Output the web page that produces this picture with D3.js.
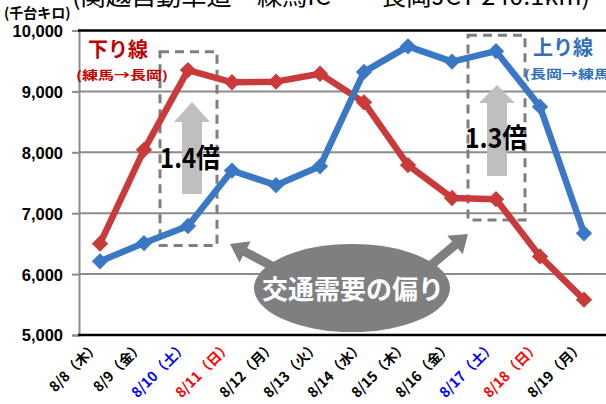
<!DOCTYPE html>
<html>
<head>
<meta charset="utf-8">
<script src="https://cdn.jsdelivr.net/npm/d3@7"></script>
<style>
  body { margin: 0; background: #fff; }
  svg { display: block; }
  text { font-family: "Liberation Sans", "Noto Sans CJK JP", sans-serif; }
  .jp { font-family: "Noto Sans CJK JP", sans-serif; }
</style>
</head>
<body>
<div id="chart"></div>
<script>
// dates on the x axis and their colour class (weekday / sat / sun)
var dates = ["8/8（木）", "8/9（金）", "8/10（土）", "8/11（日）", "8/12（月）", "8/13（火）",
  "8/14（水）", "8/15（木）", "8/16（金）", "8/17（土）", "8/18（日）", "8/19（月）"];
var dayType = ["w", "w", "sat", "sun", "w", "w", "w", "w", "w", "sat", "sun", "w"];
// 下り線 (練馬→長岡), 千台キロ
var down = [6500, 8040, 9350, 9150, 9160, 9290, 8820, 7790, 7250, 7230, 6290, 5580];
// 上り線 (長岡→練馬)
var up = [6210, 6510, 6790, 7700, 7460, 7770, 9320, 9740, 9490, 9660, 8750, 6670];
var yTicks = [5000, 6000, 7000, 8000, 9000, 10000];

var width = 606, height = 404;
var plotLeft = 78, plotRight = 606, plotTop = 30.5, plotBottom = 335;

var svg = d3.select("#chart").append("svg")
  .attr("width", width)
  .attr("height", height);

var defs = svg.append("defs");
var blur = defs.append("filter").attr("id", "soft")
  .attr("x", "-10%").attr("y", "-10%").attr("width", "120%").attr("height", "120%");
blur.append("feGaussianBlur").attr("stdDeviation", 0.6);

var x = d3.scalePoint().domain(dates).range([plotLeft, plotRight]).padding(0.5);
var y = d3.scaleLinear().domain([5000, 10000]).range([plotBottom, plotTop]);

// gridlines
svg.append("g").selectAll("line")
  .data(yTicks.filter(function(d) { return d > 5000 && d < 10000; }))
  .enter().append("line")
  .attr("x1", plotLeft + 1).attr("x2", plotRight)
  .attr("y1", function(d) { return y(d); })
  .attr("y2", function(d) { return y(d); })
  .attr("stroke", "#8c8c8c").attr("stroke-width", 2);

// left axis
var yAxis = svg.append("g")
  .attr("transform", "translate(" + (plotLeft + 1) + ",0)")
  .call(d3.axisLeft(y).tickValues(yTicks).tickSize(7).tickFormat(d3.format(",")));
yAxis.select(".domain").attr("stroke", "#8c8c8c").attr("stroke-width", 2);
yAxis.selectAll(".tick line").attr("stroke", "#8c8c8c").attr("stroke-width", 2);
yAxis.selectAll(".tick text")
  .attr("x", -16)
  .attr("dy", "0.36em")
  .style("font-size", "16.5px")
  .style("font-weight", "bold")
  .style("fill", "#000");

// top and bottom borders
svg.append("line").attr("x1", plotLeft).attr("x2", plotRight)
  .attr("y1", y(10000)).attr("y2", y(10000))
  .attr("stroke", "#000").attr("stroke-width", 2.5);
svg.append("line").attr("x1", plotLeft).attr("x2", plotRight)
  .attr("y1", y(5000)).attr("y2", y(5000))
  .attr("stroke", "#000").attr("stroke-width", 2.5);

// x labels
var dayColor = { w: "#000", sat: "#0000ff", sun: "#ff0000" };
svg.append("g").selectAll("text")
  .data(dates)
  .enter().append("text")
  .attr("class", "jp")
  .attr("transform", function(d) {
    return "translate(" + (x(d) - 3) + "," + (plotBottom + 9) + ") rotate(-45)";
  })
  .attr("text-anchor", "end")
  .attr("dy", "0.35em")
  .style("font-size", "14px")
  .style("font-weight", "bold")
  .style("fill", function(d, i) { return dayColor[dayType[i]]; })
  .text(function(d) { return d; });

// axis unit and title (title is cut by the top edge)
svg.append("text").attr("class", "jp")
  .attr("x", 4).attr("y", 18)
  .style("font-size", "14px").style("font-weight", "bold")
  .text("(千台キロ)");
svg.append("text").attr("class", "jp")
  .attr("x", 72).attr("y", 5)
  .attr("textLength", 518).attr("lengthAdjust", "spacingAndGlyphs")
  .style("font-size", "24px")
  .text("(関越自動車道　練馬IC　・長岡JCT 240.1km)");

// dashed boxes
function box(i, v0, v1) {
  var cx = x(dates[i]);
  svg.append("rect")
    .attr("x", cx - 28).attr("width", 57)
    .attr("y", y(v1)).attr("height", y(v0) - y(v1))
    .attr("fill", "none")
    .attr("stroke", "#7f7f7f").attr("stroke-width", 3)
    .attr("stroke-dasharray", "9,6");
}
box(2, 6470, 9650);
box(9, 6890, 9920);

function arrowPts(x1, y1, x2, y2, sw, hl, hw) {
  var dx = x2 - x1, dy = y2 - y1, L = Math.hypot(dx, dy);
  var ux = dx / L, uy = dy / L, px = -uy, py = ux;
  var bx = x2 - ux * hl, by = y2 - uy * hl;
  return [
    [x1 + px * sw / 2, y1 + py * sw / 2],
    [bx + px * sw / 2, by + py * sw / 2],
    [bx + px * hw / 2, by + py * hw / 2],
    [x2, y2],
    [bx - px * hw / 2, by - py * hw / 2],
    [bx - px * sw / 2, by - py * sw / 2],
    [x1 - px * sw / 2, y1 - py * sw / 2]
  ];
}
function arrow(pts, fill) {
  svg.append("polygon")
    .attr("points", pts.map(function(p) { return p.join(","); }).join(" "))
    .attr("fill", fill);
}

// grey up arrows inside boxes
arrow(arrowPts(x(dates[2]) + 4, 194, x(dates[2]) + 4, 102, 20, 20, 36), "#bfbfbf");
arrow(arrowPts(x(dates[9]) + 1, 176, x(dates[9]) + 1, 85, 20, 18, 36), "#bfbfbf");

// series
var line = d3.line()
  .x(function(d, i) { return x(dates[i]); })
  .y(function(d) { return y(d); });

function series(data, color) {
  var g = svg.append("g").attr("filter", "url(#soft)");
  g.append("path")
    .datum(data)
    .attr("d", line)
    .attr("fill", "none")
    .attr("stroke", color)
    .attr("stroke-width", 6.5)
    .attr("stroke-linejoin", "round");
  g.selectAll("path.pt")
    .data(data)
    .enter().append("path")
    .attr("class", "pt")
    .attr("d", d3.symbol().type(d3.symbolDiamond2).size(170))
    .attr("transform", function(d, i) {
      return "translate(" + x(dates[i]) + "," + y(d) + ")";
    })
    .attr("fill", color);
}
series(down, "#c93a3b");
series(up, "#3a78c4");

// ratio labels
svg.append("text").attr("class", "jp")
  .attr("x", 190).attr("y", 168).attr("text-anchor", "middle")
  .attr("textLength", 60).attr("lengthAdjust", "spacingAndGlyphs")
  .style("font-size", "27px").style("font-weight", "bold")
  .text("1.4倍");
svg.append("text").attr("class", "jp")
  .attr("x", 496).attr("y", 148).attr("text-anchor", "middle")
  .attr("textLength", 62).attr("lengthAdjust", "spacingAndGlyphs")
  .style("font-size", "27px").style("font-weight", "bold")
  .text("1.3倍");

// series labels
svg.append("text").attr("class", "jp")
  .attr("x", 88).attr("y", 57)
  .style("font-size", "20px").style("font-weight", "bold").style("fill", "#c00000")
  .text("下り線");
svg.append("text").attr("class", "jp")
  .attr("x", 76).attr("y", 80)
  .attr("textLength", 92).attr("lengthAdjust", "spacingAndGlyphs")
  .style("font-size", "12px").style("font-weight", "bold").style("fill", "#c00000")
  .text("(練馬→長岡)");
svg.append("text").attr("class", "jp")
  .attr("x", 533).attr("y", 55)
  .style("font-size", "20px").style("font-weight", "bold").style("fill", "#2f6eba")
  .text("上り線");
svg.append("text").attr("class", "jp")
  .attr("x", 524).attr("y", 79)
  .attr("textLength", 92).attr("lengthAdjust", "spacingAndGlyphs")
  .style("font-size", "12px").style("font-weight", "bold").style("fill", "#2f6eba")
  .text("(長岡→練馬)");

// demand imbalance bubble
arrow(arrowPts(272, 266, 230, 244, 9, 17, 24), "#7f7f7f");
arrow(arrowPts(430, 266, 468, 234, 9, 17, 24), "#7f7f7f");
svg.append("ellipse")
  .attr("cx", 352).attr("cy", 288).attr("rx", 98).attr("ry", 44)
  .attr("fill", "#7f7f7f");
svg.append("text").attr("class", "jp")
  .attr("x", 353).attr("y", 299).attr("text-anchor", "middle")
  .style("font-size", "26px").style("font-weight", "bold").style("fill", "#fff")
  .text("交通需要の偏り");
</script>
</body>
</html>
